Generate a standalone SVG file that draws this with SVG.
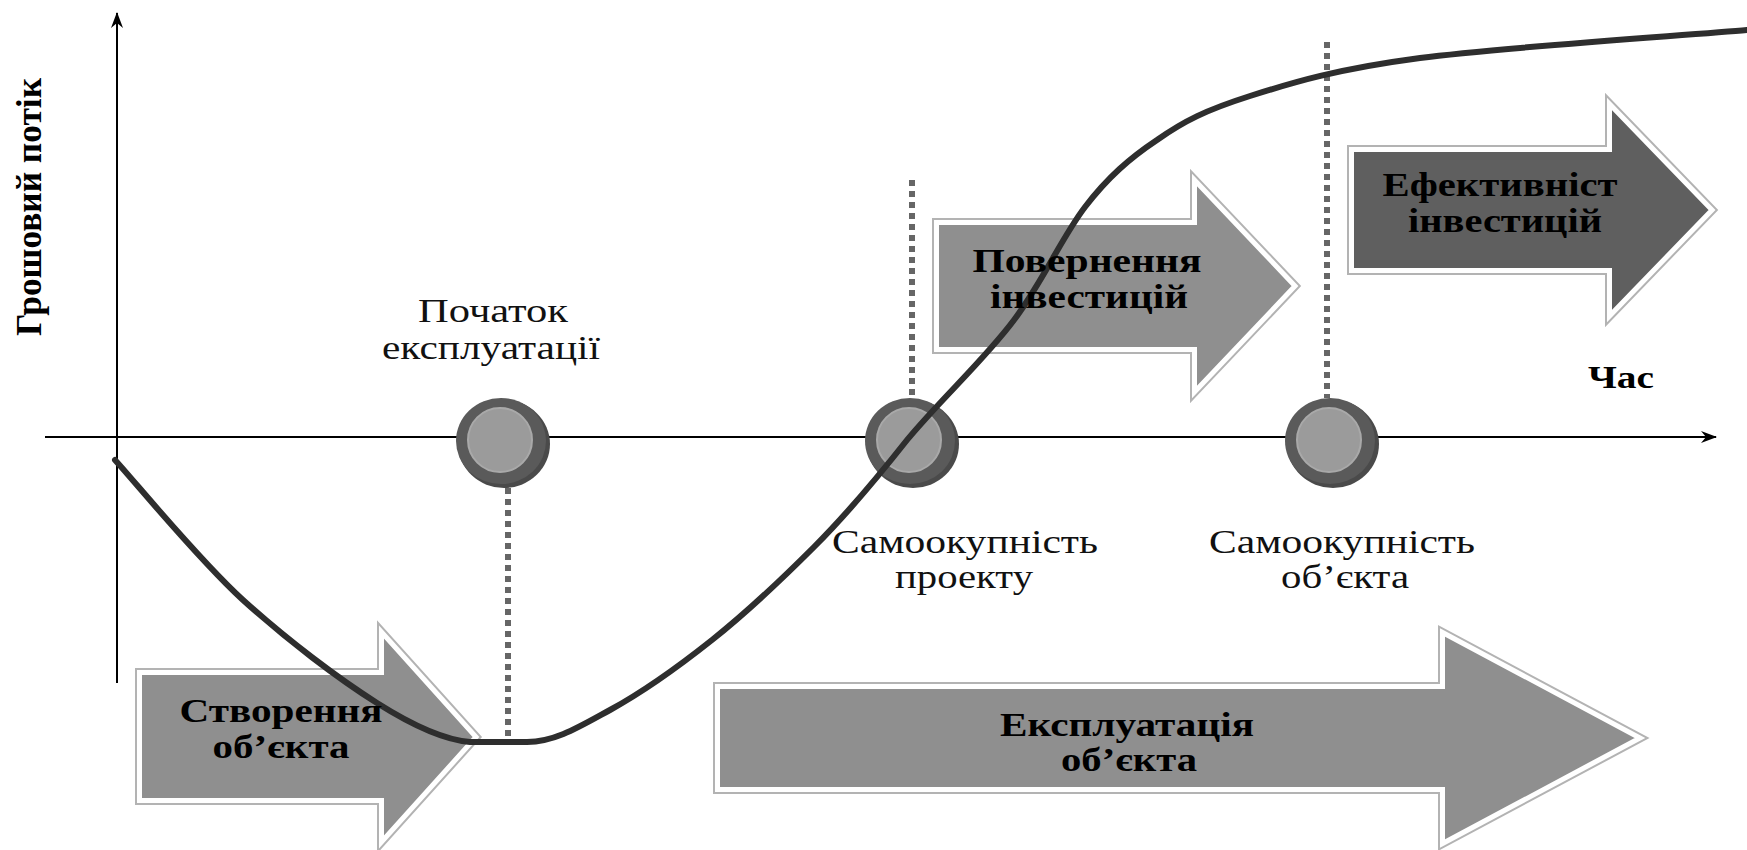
<svg xmlns="http://www.w3.org/2000/svg" width="1747" height="850" viewBox="0 0 1747 850">
<defs>
<style>
.arr-o{fill:none;stroke:#b3b3b3;stroke-width:9;stroke-linejoin:miter}
.arr-i{stroke:#ffffff;stroke-width:5;stroke-linejoin:miter}
.light{fill:#8f8f8f}
.dark{fill:#5f5f5f}
.axis{stroke:#000;stroke-width:2;fill:none}
.dot{stroke:#666;stroke-width:6;stroke-dasharray:6 5;fill:none}
.curve{stroke:#2e2e2e;stroke-width:6;fill:none;stroke-linecap:round;stroke-linejoin:round}
.c-sh{fill:#4a4a4a}
.c-out{fill:#5a5a5a}
.c-in{fill:#9b9b9b;stroke:#a9a9a9;stroke-width:2}
.b{font-family:"Liberation Serif","Times New Roman",serif;font-weight:bold;font-size:34px;fill:#000;text-anchor:middle}
.r{font-family:"Liberation Serif","Times New Roman",serif;font-size:34px;fill:#111;text-anchor:middle}
</style>
<marker id="ah" viewBox="0 0 16 12" refX="15" refY="6" markerWidth="16" markerHeight="12" markerUnits="userSpaceOnUse" orient="auto">
<path d="M0,0 L16,6 L0,12 L5,6 Z" fill="#000"/>
</marker>
</defs>

<g id="arrow-stvorennia">
<path class="arr-o" d="M139.5,672.5 H381.5 V632 L476,737 L381.5,842 V800.5 H139.5 Z"/>
<path class="arr-i light" d="M139.5,672.5 H381.5 V632 L476,737 L381.5,842 V800.5 H139.5 Z"/>
</g>
<g id="arrow-povernennia">
<path class="arr-o" d="M936.5,222.5 H1194.5 V180 L1295,286 L1194.5,392 V349.5 H936.5 Z"/>
<path class="arr-i light" d="M936.5,222.5 H1194.5 V180 L1295,286 L1194.5,392 V349.5 H936.5 Z"/>
</g>
<g id="arrow-efektyvnist">
<path class="arr-o" d="M1351.5,149.5 H1609.5 V104 L1712,210 L1609.5,316 V270.5 H1351.5 Z"/>
<path class="arr-i dark" d="M1351.5,149.5 H1609.5 V104 L1712,210 L1609.5,316 V270.5 H1351.5 Z"/>
</g>
<g id="arrow-ekspluatatsiia">
<path class="arr-o" d="M717.5,686.5 H1442.5 V632.5 L1640,738 L1442.5,843.5 V789.5 H717.5 Z"/>
<path class="arr-i light" d="M717.5,686.5 H1442.5 V632.5 L1640,738 L1442.5,843.5 V789.5 H717.5 Z"/>
</g>

<g id="connectors">
<line class="axis" x1="117" y1="683" x2="117" y2="13" marker-end="url(#ah)"/>
<line class="axis" x1="45" y1="437" x2="1716" y2="437" marker-end="url(#ah)"/>
<line class="dot" x1="508" y1="488" x2="508" y2="740"/>
<line class="dot" x1="912" y1="180" x2="912" y2="398"/>
<line class="dot" x1="1327" y1="42" x2="1327" y2="398"/>
</g>

<g id="point-pochatok">
<ellipse class="c-sh" cx="504" cy="444" rx="46" ry="44"/>
<ellipse class="c-out" cx="501" cy="441" rx="45" ry="43"/>
<circle class="c-in" cx="500" cy="440" r="32"/>
</g>
<g id="point-proekt">
<ellipse class="c-sh" cx="913" cy="444" rx="46" ry="44"/>
<ellipse class="c-out" cx="910" cy="441" rx="45" ry="43"/>
<circle class="c-in" cx="909" cy="440" r="32"/>
</g>
<g id="point-obiekt">
<ellipse class="c-sh" cx="1333" cy="444" rx="46" ry="44"/>
<ellipse class="c-out" cx="1330" cy="441" rx="45" ry="43"/>
<circle class="c-in" cx="1329" cy="440" r="32"/>
</g>

<g id="cash-curve">
<path class="curve" d="M115,460 C136,483 199,560 243,600 C287,640 339,679 377,703 C415,727 445,740 470,742 L527,742 C555,742 579,727 610,710 C641,693 678,667 712,640 C746,613 781,580 814,547 C847,514 877,478 907,440 C940,400 985,359 1014,320 C1043,281 1062,237 1085,207 C1108,177 1130,158 1157,140 C1184,121 1206,110 1250,96 C1294,82 1337,69 1420,58 C1503,47 1692,35 1747,30"/>
</g>

<g id="labels">
<text class="b" transform="translate(41,207) rotate(-90)" style="font-size:35px" textLength="258" lengthAdjust="spacingAndGlyphs">Грошовий потік</text>
<text class="b" x="1621" y="388" style="font-size:32px" textLength="66" lengthAdjust="spacingAndGlyphs">Час</text>
<text class="r" x="493" y="322" textLength="150" lengthAdjust="spacingAndGlyphs">Початок</text>
<text class="r" x="491" y="359" textLength="218" lengthAdjust="spacingAndGlyphs">експлуатації</text>
<text class="r" x="965" y="553" textLength="266" lengthAdjust="spacingAndGlyphs">Самоокупність</text>
<text class="r" x="964" y="588" textLength="138" lengthAdjust="spacingAndGlyphs">проекту</text>
<text class="r" x="1342" y="553" textLength="266" lengthAdjust="spacingAndGlyphs">Самоокупність</text>
<text class="r" x="1345" y="588" textLength="128" lengthAdjust="spacingAndGlyphs">об’єкта</text>
<text class="b" x="1087" y="272" textLength="229" lengthAdjust="spacingAndGlyphs">Повернення</text>
<text class="b" x="1089" y="308" textLength="198" lengthAdjust="spacingAndGlyphs">інвестицій</text>
<text class="b" x="1500" y="196" textLength="235" lengthAdjust="spacingAndGlyphs">Ефективніст</text>
<text class="b" x="1505" y="232" textLength="194" lengthAdjust="spacingAndGlyphs">інвестицій</text>
<text class="b" x="281" y="722" textLength="203" lengthAdjust="spacingAndGlyphs">Створення</text>
<text class="b" x="281" y="758" textLength="137" lengthAdjust="spacingAndGlyphs">об’єкта</text>
<text class="b" x="1127" y="736" textLength="254" lengthAdjust="spacingAndGlyphs">Експлуатація</text>
<text class="b" x="1129" y="771" textLength="136" lengthAdjust="spacingAndGlyphs">об’єкта</text>
</g>
</svg>
